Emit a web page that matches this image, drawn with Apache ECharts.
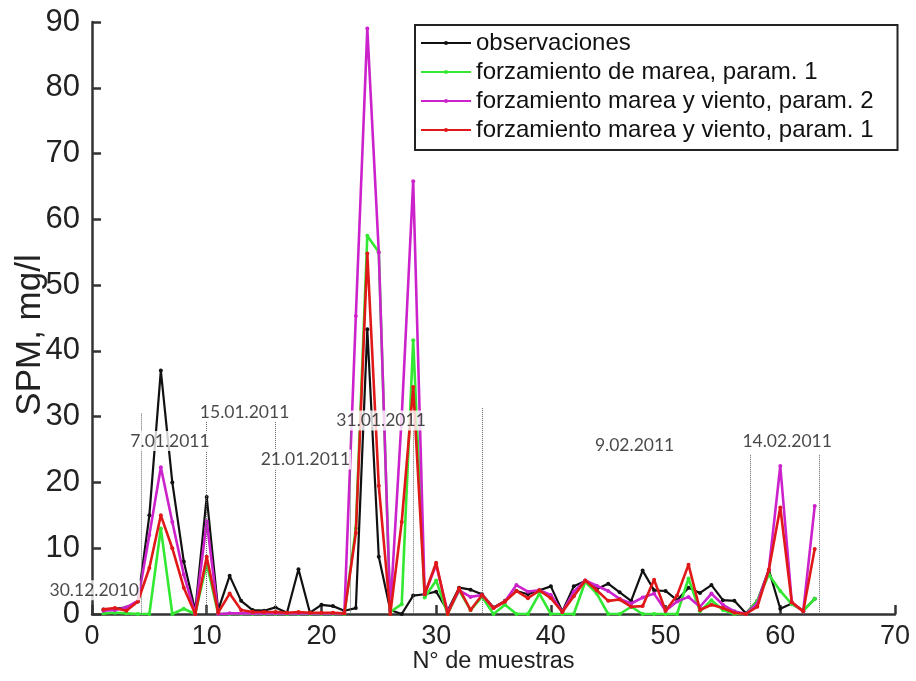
<!DOCTYPE html>
<html>
<head>
<meta charset="utf-8">
<script src="https://cdn.jsdelivr.net/npm/echarts@6/dist/echarts.min.js"></script>
<style>html,body{margin:0;padding:0;background:#fff}#chart{width:916px;height:681px}</style>
</head>
<body>
<div id="chart"></div>
<script>
// sample numbers (N° de muestras)
const samples = [1,2,3,4,5,6,7,8,9,10,11,12,13,14,15,16,17,18,19,20,21,22,23,24,25,26,27,28,29,30,31,32,33,34,35,36,37,38,39,40,41,42,43,44,45,46,47,48,49,50,51,52,53,54,55,56,57,58,59,60,61,62,63];

const observaciones = [0.7,0.8,1.0,1.9,15,37,20,8,0.5,17.8,0.6,5.8,2.0,0.6,0.5,1.0,0.2,6.8,0.2,1.4,1.2,0.5,0.9,43.3,8.7,0.6,0,2.8,3.0,3.4,0.5,4.0,3.7,3.0,1.0,2.0,3.5,3.0,3.6,4.2,0.4,4.2,5.0,3.8,4.6,3.3,2.0,6.6,3.6,3.5,2.1,4.0,3.2,4.4,2.1,2.0,0.1,2.0,6.7,0.8,1.6,0.5,2.3];

const mareaParam1 = [0.1,0.2,0.1,0,0,13,0,0.8,0,7.7,0,0,0,0,0,0,0,0,0,0,0,0,13,57.5,55,0.3,1.5,41.6,2.5,5.1,0,3.6,0.6,2.6,0,1.4,0,0,3.1,0,0,0,4.9,3.1,0,0,1.1,0,0,0,0,5.4,0.4,2.1,0.6,0,0,2.0,6.0,3.5,1.5,0.5,2.3];

const vientoParam2 = [0.5,0.6,1.0,2.0,12,22.3,14,6,0,14.1,0,0.1,0.1,0.1,0.1,0.1,0.1,0.1,0.1,0.1,0.1,0.1,45.3,89,55,0.5,30,65.8,3,7.5,0.3,3.6,2.6,2.9,0.9,1.9,4.4,3.4,3.6,2.9,0.3,3.4,5.1,4.3,3.5,2.3,1.6,2.5,3.1,0.5,1.9,2.6,1.1,3.1,1.4,0.4,0,1.6,6.7,22.5,1.8,0.4,16.4];

const vientoParam1 = [0.7,0.9,0.5,1.9,7,15,10,4,0,8.7,0.2,3.1,0.6,0.3,0.3,0.3,0.2,0.3,0.2,0.2,0.2,0.1,12.3,54.8,19.5,0,14,34.5,3,7.8,0,3.9,0.6,2.9,0.9,1.9,3.5,2.4,3.6,2.4,0.3,2.7,5.1,3.6,2.0,2.2,1.1,1.2,5.2,0.5,2.8,7.5,0.6,1.4,0.9,0.2,0,1.1,6.7,16.2,1.8,0.4,9.9];

const seriesNames = ['observaciones','forzamiento de marea, param. 1','forzamiento marea y viento, param. 2','forzamiento marea y viento, param. 1'];

// date annotations
const dateLabels = ['30.12.2010','7.01.2011','15.01.2011','21.01.2011','31.01.2011','9.02.2011','14.02.2011'];
const dateLabelX = [0.2,6.8,13.3,18.6,25.2,47.3,60.6];
const dateLabelY = [3.6,26.3,30.7,23.5,29.4,25.6,26.2];

// dotted event lines
const eventX = [4.3,10,16,22.5,28,34,57.4,63.4];
const eventTop = [30.5,29.2,29.2,28.5,29.7,31.3,24.2,24.2];

const xTicks = [0,10,20,30,40,50,60,70];
const yTicks = [0,10,20,30,40,50,60,70,80,90];

const zip = (xs, ys) => xs.map((x, i) => [x, ys[i]]);

const font = "'Liberation Sans', Arial, sans-serif";

const colors = ['#111111','#33e833','#cc22cc','#e01818'];
const values = [observaciones, mareaParam1, vientoParam2, vientoParam1];

const lineSeries = values.map((v, i) => ({
  name: seriesNames[i],
  type: 'line',
  data: zip(samples, v),
  symbol: 'circle',
  symbolSize: 4,
  color: colors[i],
  lineStyle: { width: i === 0 ? 2.2 : 2.6, color: colors[i] },
  itemStyle: { color: colors[i] },
  z: 2 + i,
  animation: false
}));

lineSeries[0].markLine = {
  silent: true,
  symbol: 'none',
  label: { show: false },
  lineStyle: { type: 'dotted', color: '#666', width: 1 },
  data: eventX.map((x, i) => [{ coord: [x, eventTop[i]] }, { coord: [x, 0] }])
};

const dateSeries = {
  name: 'fechas',
  type: 'scatter',
  symbolSize: 0,
  silent: true,
  z: 10,
  data: dateLabels.map((t, i) => ({ value: [dateLabelX[i], dateLabelY[i]], name: t })),
  label: {
    show: true,
    position: 'inside',
    formatter: p => p.name,
    fontFamily: "Lato, 'Open Sans', sans-serif",
    fontSize: 17.5,
    color: '#1a1a1a',
    backgroundColor: '#fff',
    padding: [1, 1]
  },
  animation: false
};

const chart = echarts.init(document.getElementById('chart'), null, { renderer: 'canvas' });
chart.setOption({
  backgroundColor: '#fff',
  animation: false,
  grid: { left: 92, right: 21, top: 22, bottom: 67, containLabel: false, outerBoundsMode: 'none' },
  legend: {
    data: seriesNames,
    orient: 'vertical',
    left: 415,
    top: 25,
    itemWidth: 50,
    itemHeight: 5,
    itemGap: 5,
    padding: [6, 24, 8, 5],
    borderColor: '#222',
    borderWidth: 2,
    backgroundColor: '#fff',
    textStyle: { fontFamily: font, fontSize: 24, color: '#111', lineHeight: 24 },
    selectedMode: false
  },
  xAxis: {
    type: 'value',
    min: xTicks[0],
    max: xTicks[xTicks.length - 1],
    interval: 10,
    name: 'N° de muestras',
    nameLocation: 'middle',
    nameGap: 36,
    nameMoveOverlap: false,
    nameTextStyle: { fontFamily: font, fontSize: 23.5, color: '#222' },
    axisLine: { show: true, lineStyle: { color: '#333', width: 2.5 } },
    axisTick: { show: true, inside: true, length: 9, lineStyle: { color: '#333', width: 2.5 } },
    axisLabel: { fontFamily: font, fontSize: 27, color: '#222', margin: 9 },
    splitLine: { show: false }
  },
  yAxis: {
    type: 'value',
    min: yTicks[0],
    max: yTicks[yTicks.length - 1],
    interval: 10,
    name: 'SPM, mg/l',
    nameLocation: 'middle',
    nameRotate: 90,
    nameGap: 44,
    nameMoveOverlap: false,
    nameTextStyle: { fontFamily: font, fontSize: 35, color: '#222', padding: [0, 34, 0, 0] },
    axisLine: { show: true, lineStyle: { color: '#333', width: 2.5 } },
    axisTick: { show: true, inside: true, length: 9, lineStyle: { color: '#333', width: 2.5 } },
    axisLabel: { fontFamily: font, fontSize: 31, color: '#222', margin: 12 },
    splitLine: { show: false }
  },
  series: [...lineSeries, dateSeries]
});
</script>
</body>
</html>
